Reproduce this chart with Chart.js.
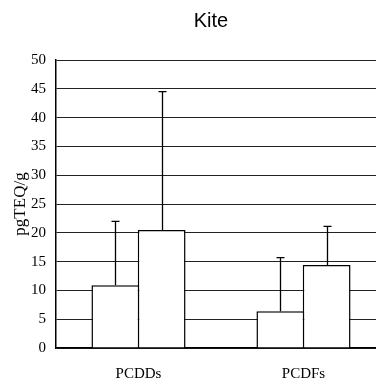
<!DOCTYPE html>
<html>
<head>
<meta charset="utf-8">
<script src="https://cdn.jsdelivr.net/npm/chart.js@4/dist/chart.umd.min.js"></script>
<style>
  html, body { margin: 0; padding: 0; background: #fff; overflow: hidden; }
  #wrap { width: 376px; height: 385px; overflow: hidden; }
</style>
</head>
<body>
<div id="wrap"><canvas id="kite-chart" width="400" height="385"></canvas></div>
<script>
const categories = ["PCDDs", "PCDFs"];
const meanLeft = [10.9, 6.4];
const meanRight = [20.5, 14.4];
const sdLeft = [11.1, 9.3];
const sdRight = [24.0, 6.7];
const yTicks = [0, 5, 10, 15, 20, 25, 30, 35, 40, 45, 50];

const serif = "'Liberation Serif', 'DejaVu Serif', serif";

// upper whiskers only, with a short cap
const errorBars = {
  id: "errorBars",
  afterDatasetsDraw(chart) {
    const ctx = chart.ctx;
    const y = chart.scales.y;
    ctx.save();
    ctx.strokeStyle = "#000";
    ctx.lineWidth = 1.3;
    chart.data.datasets.forEach((ds, i) => {
      const meta = chart.getDatasetMeta(i);
      meta.data.forEach((bar, j) => {
        const top = y.getPixelForValue(ds.data[j] + ds.sd[j]);
        const x = Math.round(bar.x) + 0.5;
        ctx.beginPath();
        ctx.moveTo(x, bar.y);
        ctx.lineTo(x, top);
        ctx.moveTo(x - 4, top);
        ctx.lineTo(x + 4, top);
        ctx.stroke();
      });
    });
    ctx.restore();
  }
};

const chartTitle = {
  id: "chartTitle",
  afterDraw(chart) {
    const ctx = chart.ctx;
    ctx.save();
    ctx.fillStyle = "#000";
    ctx.font = "20px 'Liberation Sans', Arial, sans-serif";
    ctx.textAlign = "center";
    ctx.textBaseline = "middle";
    ctx.fillText("Kite", 211, 21);
    ctx.restore();
  }
};

const edge = 1.5;

new Chart(document.getElementById("kite-chart"), {
  type: "bar",
  data: {
    labels: categories,
    datasets: [
      {
        data: meanLeft, sd: sdLeft, backgroundColor: "#fff", borderColor: "#000",
        borderWidth: { top: edge, left: edge, right: edge, bottom: 0 }
      },
      {
        data: meanRight, sd: sdRight, backgroundColor: "#fff", borderColor: "#000",
        borderWidth: { top: edge, left: edge, right: edge, bottom: 0 }
      }
    ]
  },
  options: {
    responsive: false,
    animation: false,
    layout: { padding: { top: 60, right: 14, left: 0, bottom: 0 } },
    // paired bars overlap by one border width so their inner edges coincide
    datasets: { bar: { categoryPercentage: 0.5612, barPercentage: 1.0324 } },
    plugins: { legend: { display: false }, title: { display: false }, tooltip: { enabled: false } },
    scales: {
      x: {
        grid: { display: false, drawTicks: false },
        border: { color: "#000", width: 1.5 },
        ticks: { color: "#000", font: { family: serif, size: 15 }, padding: 17 },
        afterFit(scale) { scale.height = 37; }
      },
      y: {
        min: 0,
        max: 50,
        afterBuildTicks(scale) { scale.ticks = yTicks.map(v => ({ value: v })); },
        grid: { color: "#222", lineWidth: 1, drawTicks: false },
        border: { color: "#000", width: 1.5 },
        ticks: { color: "#000", font: { family: serif, size: 15 }, padding: 10 },
        title: {
          display: true,
          text: "pgTEQ/g",
          color: "#000",
          font: { family: serif, size: 17 },
          padding: { top: 10, bottom: 0 }
        },
        afterFit(scale) { scale.width = 56; }
      }
    }
  },
  plugins: [errorBars, chartTitle]
});
</script>
</body>
</html>
